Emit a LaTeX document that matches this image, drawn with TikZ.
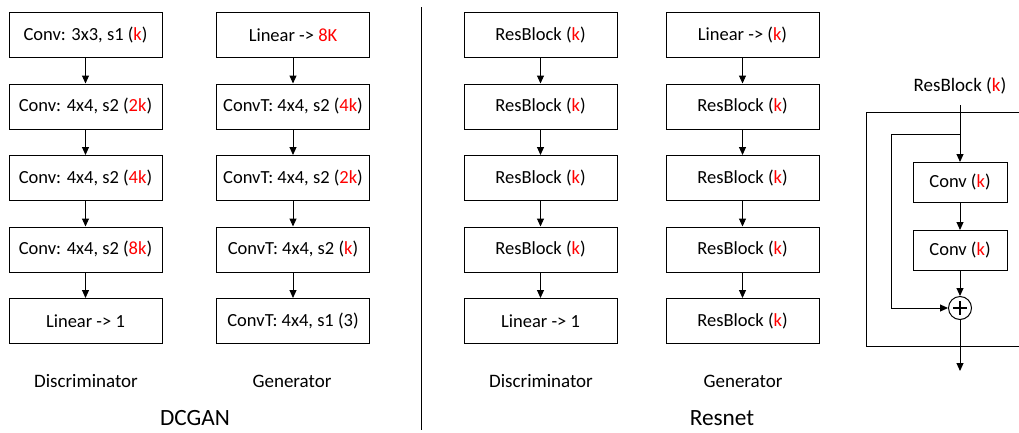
\documentclass[tikz,border=0pt]{standalone}
\usepackage{fontspec}
\setmainfont{Carlito}
\usetikzlibrary{arrows.meta}
\newcommand{\chan}[1]{\textcolor{red}{#1}}
\tikzset{
  block/.style={draw,line width=1pt,minimum width=153pt,minimum height=45pt,inner sep=0pt},
  smallblock/.style={block,minimum width=94pt,minimum height=40pt},
  flow/.style={-{Triangle[length=8pt,width=7pt]},line width=1pt},
  caption/.style={font=\fontsize{19}{22}\selectfont},
  title/.style={font=\fontsize{23.3}{27}\selectfont},
  sum/.style={circle,draw,line width=1pt,minimum size=23pt,inner sep=0pt,
    path picture={\draw[line width=1.8pt] ([xshift=-7pt]path picture bounding box.center) -- ([xshift=7pt]path picture bounding box.center)
      ([yshift=-7pt]path picture bounding box.center) -- ([yshift=7pt]path picture bounding box.center);}}
}
\begin{document}
\begin{tikzpicture}[x=1pt,y=-1pt,font=\fontsize{18.5}{22}\selectfont]
\useasboundingbox (0,0) rectangle (1019,432);

% DCGAN discriminator
\node[block] (dd1) at (85.5,35) {Conv: 3x3, s1 (\chan{k})};
\node[block] (dd2) at (85.5,106.5) {Conv: 4x4, s2 (\chan{2k})};
\node[block] (dd3) at (85.5,178) {Conv: 4x4, s2 (\chan{4k})};
\node[block] (dd4) at (85.5,249.5) {Conv: 4x4, s2 (\chan{8k})};
\node[block] (dd5) at (85.5,321) {Linear -> 1};
\draw[flow] (dd1) -- (dd2);
\draw[flow] (dd2) -- (dd3);
\draw[flow] (dd3) -- (dd4);
\draw[flow] (dd4) -- (dd5);
\node[caption] (ddlab) at (86,381.5) {Discriminator};

% DCGAN generator
\node[block] (dg1) at (293,35) {Linear -> \chan{8K}};
\node[block] (dg2) at (293,106.5) {ConvT: 4x4, s2 (\chan{4k})};
\node[block] (dg3) at (293,178) {ConvT: 4x4, s2 (\chan{2k})};
\node[block] (dg4) at (293,249.5) {ConvT: 4x4, s2 (\chan{k})};
\node[block] (dg5) at (293,321) {ConvT: 4x4, s1 (3)};
\draw[flow] (dg1) -- (dg2);
\draw[flow] (dg2) -- (dg3);
\draw[flow] (dg3) -- (dg4);
\draw[flow] (dg4) -- (dg5);
\node[caption] (dglab) at (292,381.5) {Generator};

\node[title] (dcgan) at (195,418) {DCGAN};

% separator
\coordinate (septop) at (421.5,7);
\coordinate (sepbot) at (421.5,430);
\draw[line width=1pt] (septop) -- (sepbot);

% Resnet discriminator
\node[block] (rd1) at (540.5,35) {ResBlock (\chan{k})};
\node[block] (rd2) at (540.5,106.5) {ResBlock (\chan{k})};
\node[block] (rd3) at (540.5,178) {ResBlock (\chan{k})};
\node[block] (rd4) at (540.5,249.5) {ResBlock (\chan{k})};
\node[block] (rd5) at (540.5,321) {Linear -> 1};
\draw[flow] (rd1) -- (rd2);
\draw[flow] (rd2) -- (rd3);
\draw[flow] (rd3) -- (rd4);
\draw[flow] (rd4) -- (rd5);
\node[caption] (rdlab) at (541,381.5) {Discriminator};

% Resnet generator
\node[block] (rg1) at (742.5,35) {Linear -> (\chan{k})};
\node[block] (rg2) at (742.5,106.5) {ResBlock (\chan{k})};
\node[block] (rg3) at (742.5,178) {ResBlock (\chan{k})};
\node[block] (rg4) at (742.5,249.5) {ResBlock (\chan{k})};
\node[block] (rg5) at (742.5,321) {ResBlock (\chan{k})};
\draw[flow] (rg1) -- (rg2);
\draw[flow] (rg2) -- (rg3);
\draw[flow] (rg3) -- (rg4);
\draw[flow] (rg4) -- (rg5);
\node[caption] (rglab) at (743,381.5) {Generator};

\node[title] (resnet) at (722,418) {Resnet};

% ResBlock detail
\node[caption] (rbtitle) at (960,86) {ResBlock (\chan{k})};
\draw[line width=1pt] (866.7,112.7) rectangle (1040,346.7);
\node[smallblock] (conv1) at (960,182.5) {Conv (\chan{k})};
\node[smallblock] (conv2) at (960,250.5) {Conv (\chan{k})};
\node[sum] (add) at (960,308) {};
\coordinate (rbin) at (960,105);
\coordinate (split) at (960,134);
\coordinate (skip) at (891.7,308);
\coordinate (rbout) at (960,371);
\draw[flow] (rbin) -- (conv1);
\draw[flow] (conv1) -- (conv2);
\draw[flow] (conv2) -- (add);
\draw[flow] (split) -| (skip) -- (add);
\draw[flow] (add) -- (rbout);
\end{tikzpicture}
\end{document}
